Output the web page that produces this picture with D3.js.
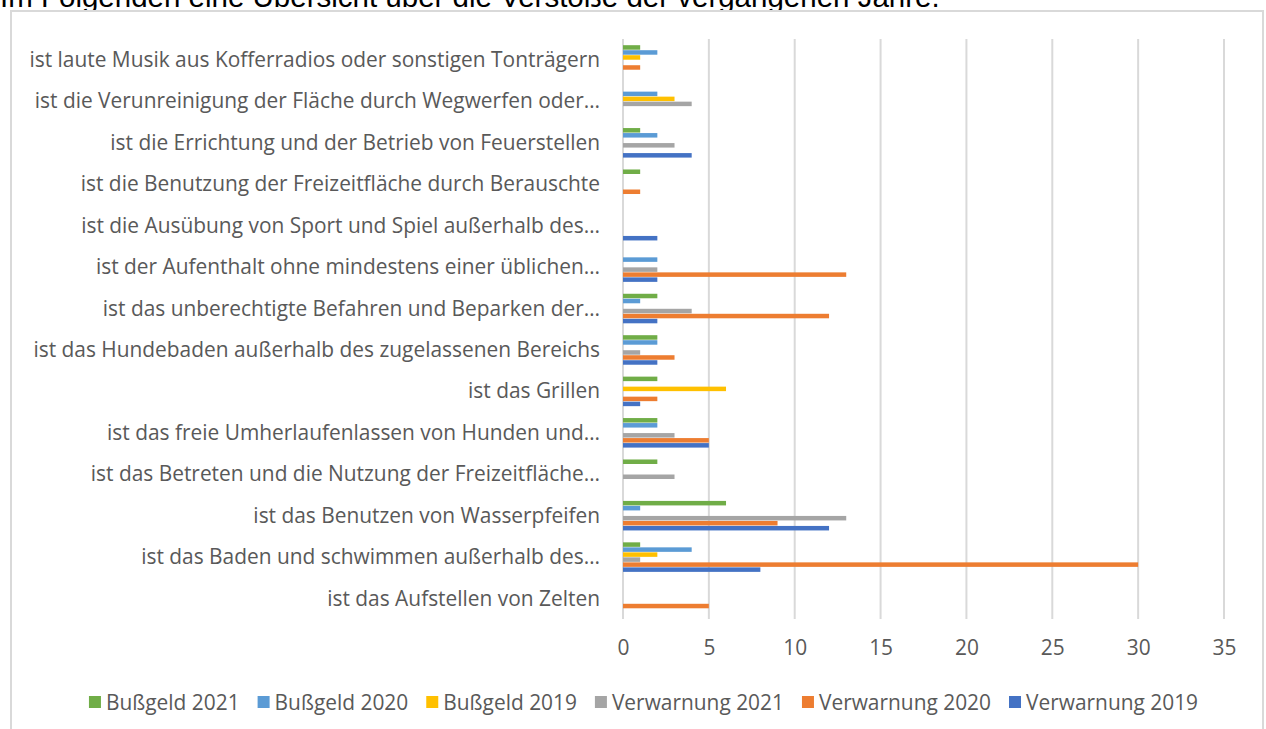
<!DOCTYPE html>
<html>
<head>
<meta charset="utf-8">
<script src="https://cdn.jsdelivr.net/npm/d3@7"></script>
<style>
  body { margin: 0; background: #fff; overflow: hidden; }
  svg { display: block; }
</style>
</head>
<body>
<div id="chart-area"></div>
<script>
// categories, top to bottom as shown
const categories = [
  'ist laute Musik aus Kofferradios oder sonstigen Tonträgern',
  'ist die Verunreinigung der Fläche durch Wegwerfen oder…',
  'ist die Errichtung und der Betrieb von Feuerstellen',
  'ist die Benutzung der Freizeitfläche durch Berauschte',
  'ist die Ausübung von Sport und Spiel außerhalb des…',
  'ist der Aufenthalt ohne mindestens einer üblichen…',
  'ist das unberechtigte Befahren und Beparken der…',
  'ist das Hundebaden außerhalb des zugelassenen Bereichs',
  'ist das Grillen',
  'ist das freie Umherlaufenlassen von Hunden und…',
  'ist das Betreten und die Nutzung der Freizeitfläche…',
  'ist das Benutzen von Wasserpfeifen',
  'ist das Baden und schwimmen außerhalb des…',
  'ist das Aufstellen von Zelten'
]

const seriesNames = ['Bußgeld 2021', 'Bußgeld 2020', 'Bußgeld 2019', 'Verwarnung 2021', 'Verwarnung 2020', 'Verwarnung 2019']
const seriesColors = ['#70AD47', '#5B9BD5', '#FFC000', '#A5A5A5', '#ED7D31', '#4472C4']

const bussgeld2021    = [1, 0, 1, 1, 0, 0, 2, 2, 2, 2, 2, 6, 1, 0]
const bussgeld2020    = [2, 2, 2, 0, 0, 2, 1, 2, 0, 2, 0, 1, 4, 0]
const bussgeld2019    = [1, 3, 0, 0, 0, 0, 0, 0, 6, 0, 0, 0, 2, 0]
const verwarnung2021  = [0, 4, 3, 0, 0, 2, 4, 1, 0, 3, 3, 13, 1, 0]
const verwarnung2020  = [1, 0, 0, 1, 0, 13, 12, 3, 2, 5, 0, 9, 30, 5]
const verwarnung2019  = [0, 0, 4, 0, 2, 2, 2, 2, 1, 5, 0, 12, 8, 0]

const xTicks = [0, 5, 10, 15, 20, 25, 30, 35]

const seriesValues = [bussgeld2021, bussgeld2020, bussgeld2019, verwarnung2021, verwarnung2020, verwarnung2019]

const W = 1266
const H = 729
const plot = {left: 623, right: 1224, top: 39, bottom: 619}

const svg = d3.select('#chart-area').append('svg')
  .attr('width', W)
  .attr('height', H)

// page text above the chart (cut off at the top, as in the screenshot)
svg.append('text')
  .attr('x', 0)
  .attr('y', 7)
  .attr('font-family', 'Liberation Sans, Arial, sans-serif')
  .attr('font-size', 29.5)
  .attr('fill', '#000')
  .text('Im Folgenden eine Übersicht über die Verstöße der vergangenen Jahre.')

// chart frame
svg.append('rect')
  .attr('x', 11)
  .attr('y', 11)
  .attr('width', 1252)
  .attr('height', 740)
  .attr('fill', '#fff')
  .attr('stroke', '#d9d9d9')
  .attr('stroke-width', 2)

const x = d3.scaleLinear()
  .domain([0, 35])
  .range([plot.left, plot.right])

const y0 = d3.scaleBand()
  .domain(categories)
  .range([plot.top, plot.bottom])
  .paddingInner(0.275)
  .paddingOuter(0.1375)

const y1 = d3.scaleBand()
  .domain(seriesNames)
  .range([0, y0.bandwidth()])

// gridlines
svg.append('g')
  .selectAll('line')
  .data(xTicks)
  .enter().append('line')
    .attr('x1', d => x(d))
    .attr('x2', d => x(d))
    .attr('y1', plot.top)
    .attr('y2', plot.bottom)
    .attr('stroke', '#d9d9d9')
    .attr('stroke-width', 2)

// bars
const rows = categories.map((c, i) => ({
  cat: c,
  vals: seriesNames.map((s, j) => ({name: s, color: seriesColors[j], v: seriesValues[j][i]}))
}))

const groups = svg.append('g').selectAll('g')
  .data(rows)
  .enter().append('g')
    .attr('transform', d => `translate(0,${y0(d.cat)})`)

groups.selectAll('rect')
  .data(d => d.vals.filter(v => v.v > 0))
  .enter().append('rect')
    .attr('x', x(0))
    .attr('y', d => y1(d.name) + 0.5)
    .attr('width', d => x(d.v) - x(0))
    .attr('height', y1.bandwidth() - 0.5)
    .attr('fill', d => d.color)

// category labels
const labelFont = '"Open Sans", sans-serif'
const labelSize = 20.9
svg.append('g')
  .selectAll('text')
  .data(categories)
  .enter().append('text')
    .attr('x', 600)
    .attr('y', d => y0(d) + y0.bandwidth() / 2)
    .attr('dy', '0.35em')
    .attr('text-anchor', 'end')
    .attr('font-family', labelFont)
    .attr('font-size', labelSize)
    .attr('fill', '#595959')
    .text(d => d)

// x axis
const xAxisCall = d3.axisBottom(x)
  .tickValues(xTicks)
  .tickSize(0)
  .tickPadding(0)
const xAxis = svg.append('g')
  .attr('transform', `translate(0,${plot.bottom + 36})`)
  .call(xAxisCall)
xAxis.select('.domain').remove()
xAxis.selectAll('text')
  .attr('font-family', labelFont)
  .attr('font-size', labelSize)
  .attr('fill', '#595959')
  .attr('dy', 0)

// legend
const legend = svg.append('g')
const items = legend.selectAll('g')
  .data(seriesNames)
  .enter().append('g')
items.append('rect')
  .attr('width', 12)
  .attr('height', 12)
  .attr('y', -14)
  .attr('fill', (d, i) => seriesColors[i])
items.append('text')
  .attr('x', 17)
  .attr('font-family', labelFont)
  .attr('font-size', labelSize)
  .attr('fill', '#595959')
  .text(d => d)

let pos = 0
items.each(function () {
  const w = this.getBBox().width
  d3.select(this).attr('transform', `translate(${pos},0)`)
  pos += w + 18
})
const legendWidth = pos - 18
legend.attr('transform', `translate(${(90 + 1197) / 2 - legendWidth / 2},710)`)
</script>
</body>
</html>
